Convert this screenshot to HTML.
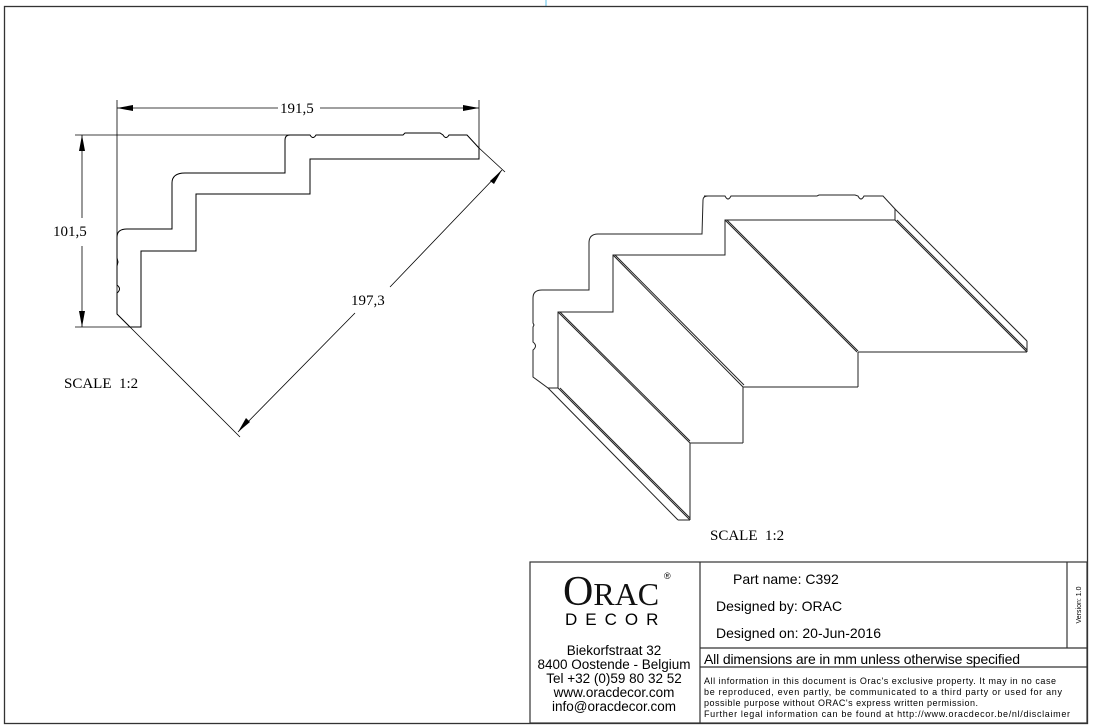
<!DOCTYPE html>
<html><head><meta charset="utf-8"><style>
html,body{margin:0;padding:0;background:#fff;}
svg{display:block;}
.t{font-family:"Liberation Serif",serif;font-size:15px;fill:#000;}
.c{font-family:"Liberation Sans",sans-serif;fill:#000;}
</style></head><body>
<svg width="1093" height="728" viewBox="0 0 1093 728" xmlns="http://www.w3.org/2000/svg">
<line x1="546" y1="0" x2="546" y2="6" stroke="#5bc0eb" stroke-width="1"/>
<rect x="4.5" y="6.5" width="1083" height="717" fill="none" stroke="#333" stroke-width="1.3"/>

<g fill="none" stroke="#000" stroke-width="1">
<path d="M290,135 L310,135 Q313,140 316,135 L403,135 L405,133 L440,133 L443,135 Q446,140 449,135 L467,135 L479,148 L479,158 L479,159 L310,159 L310,194 L196,194 L196,251 L141,251 L141,327 L130,327 L117,314 L117,293 Q122,289 117,285 L117,266 L118,262 L117,258 L117,237 Q117,229 127,229 L172,229 L172,183 Q172,173 185,173 L285,173 L285,140 Q285,135 290,135 Z"/>
<line x1="117" y1="100" x2="117" y2="314" stroke-width="0.8"/>
<line x1="479" y1="100" x2="479" y2="148" stroke-width="0.8"/>
<line x1="117" y1="108" x2="278" y2="108" stroke-width="0.8"/>
<line x1="320" y1="108" x2="479" y2="108" stroke-width="0.8"/>
<line x1="75" y1="135" x2="290" y2="135" stroke-width="0.8"/>
<line x1="75" y1="327" x2="141" y2="327" stroke-width="0.8"/>
<line x1="82" y1="135" x2="82" y2="218" stroke-width="0.8"/>
<line x1="82" y1="246" x2="82" y2="327" stroke-width="0.8"/>
<line x1="479" y1="148" x2="505" y2="172" stroke-width="0.8"/>
<line x1="130" y1="327" x2="240" y2="437" stroke-width="0.8"/>
<line x1="502" y1="170" x2="390" y2="287" stroke-width="0.8"/>
<line x1="355" y1="313" x2="238" y2="432" stroke-width="0.8"/>
</g>
<g fill="#000">
<polygon points="117,108 133,105 133,111"/>
<polygon points="479,108 463,105 463,111"/>
<polygon points="82,135 79,151 85,151"/>
<polygon points="82,327 79,311 85,311"/>
<polygon points="502,170 490,181 494,184"/>
<polygon points="238,432 246,418 250,422"/>
</g>
<text class="t" x="280" y="113">191,5</text>
<text class="t" x="53" y="236">101,5</text>
<text class="t" x="351" y="305">197,3</text>
<text class="t" x="64" y="388">SCALE&#160;&#160;1:2</text>

<g fill="none" stroke="#222" stroke-width="1">
<path d="M704,196 L725,196 Q728,202 731,196 L817,196 L819,195 L855,195 L858,196 Q861,202 864,196 L883,196 L895,209 L895,220 L725,220 L725,255 L613,255 L613,312 L558,312 L558,388 L548,388 L533,377 L533,350 Q538,346 533,342 L533,327 L534,325 L533,323 L533,298 Q533,290 542,290 L589,290 L589,243 Q589,234 598,234 L702,234 L703,200 Q703,196 708,196 Z"/>
<line x1="895" y1="209" x2="1027" y2="341"/>
<line x1="895" y1="220" x2="1027" y2="352"/>
<line x1="897" y1="220" x2="1027" y2="350"/>
<line x1="1027" y1="341" x2="1027" y2="352"/>
<line x1="725" y1="220" x2="857" y2="352"/>
<line x1="727" y1="220" x2="858" y2="351"/>
<line x1="858" y1="352" x2="1027" y2="352"/>
<line x1="858" y1="352" x2="858" y2="387"/>
<line x1="613" y1="255" x2="743" y2="387"/>
<line x1="615" y1="255" x2="744" y2="385"/>
<line x1="743" y1="387" x2="858" y2="387"/>
<line x1="743" y1="387" x2="743" y2="443"/>
<line x1="558" y1="312" x2="690" y2="443"/>
<line x1="560" y1="312" x2="690" y2="441"/>
<line x1="690" y1="443" x2="743" y2="443"/>
<line x1="690" y1="443" x2="690" y2="520"/>
<line x1="558" y1="388" x2="690" y2="520"/>
<line x1="560" y1="388" x2="690" y2="518"/>
<line x1="548" y1="388" x2="678" y2="520"/>
<line x1="678" y1="520" x2="690" y2="520"/>
</g>
<text class="t" x="710" y="540">SCALE&#160;&#160;1:2</text>

<g fill="none" stroke="#333" stroke-width="1.2">
<rect x="530" y="562" width="557" height="161"/>
<line x1="700" y1="562" x2="700" y2="723"/>
<line x1="700" y1="648" x2="1087" y2="648"/>
<line x1="700" y1="667" x2="1087" y2="667"/>
<line x1="1067" y1="562" x2="1067" y2="648"/>
</g>
<text x="563" y="605" style="font-family:'Liberation Serif',serif;font-size:42px;" fill="#111">O<tspan font-size="32">RAC</tspan></text>
<text x="664" y="579" class="c" font-size="9">®</text>
<text x="565" y="625" class="c" font-size="17" letter-spacing="8">DECOR</text>
<g class="c" font-size="13.5" text-anchor="middle">
<text x="614" y="655">Biekorfstraat 32</text>
<text x="614" y="669">8400 Oostende - Belgium</text>
<text x="614" y="683">Tel  +32 (0)59 80 32 52</text>
<text x="614" y="697">www.oracdecor.com</text>
<text x="614" y="711">info@oracdecor.com</text>
</g>
<g class="c" font-size="14">
<text x="733" y="584">Part name:  C392</text>
<text x="716" y="611">Designed by:  ORAC</text>
<text x="716" y="638">Designed on:  20-Jun-2016</text>
<text x="704" y="664" textLength="316">All dimensions are in mm unless otherwise specified</text>
</g>
<g class="c" font-size="9">
<text x="704" y="684" textLength="352">All information in this document is Orac's exclusive property.  It may in no case</text>
<text x="704" y="695" textLength="358">be reproduced, even partly, be communicated to a third party or used for any</text>
<text x="704" y="706" textLength="274">possible purpose without ORAC's express written permission.</text>
<text x="704" y="717" textLength="366">Further legal information can be found at http://www.oracdecor.be/nl/disclaimer</text>
</g>
<text class="c" font-size="7" transform="translate(1081,605) rotate(-90)" text-anchor="middle">Version: 1.0</text>
</svg>
</body></html>
